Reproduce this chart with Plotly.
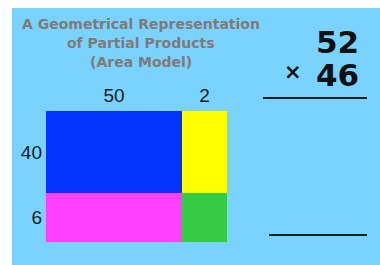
import plotly.graph_objects as go

# ---- data ----
col_values = [50, 2]          # tens / ones of 52
row_values = [40, 6]          # tens / ones of 46 (top to bottom)
factor_top = "52"
factor_bottom = "46"
times_sign = "×"
title_lines = ["A Geometrical Representation", "of Partial Products", "(Area Model)"]
cell_colors = ["#0433FF", "#FFFF00", "#FF40FF", "#33CC44"]  # 40x50, 40x2, 6x50, 6x2

# display sizes of the (not-to-scale) area model
col_display = [136, 45]
row_display = [82, 49]   # top row, bottom row

W, H = 380, 265
BG = "#79D3FE"


def px(x):
    return x / W


def py(y):
    return 1 - y / H


# heatmap cell edges (bottom-up for y)
x_edges = [0, col_display[0], col_display[0] + col_display[1]]
y_edges = [0, row_display[1], row_display[1] + row_display[0]]
z = [[2, 3], [0, 1]]  # bottom row: 6 -> magenta, green ; top row: 40 -> blue, yellow
n = len(cell_colors) - 1
colorscale = [[i / n, c] for i, c in enumerate(cell_colors)]

fig = go.Figure()
fig.add_trace(go.Heatmap(
    x=x_edges, y=y_edges, z=z, zmin=0, zmax=n,
    colorscale=colorscale, showscale=False, hoverinfo="skip",
))

x_centers = [(x_edges[i] + x_edges[i + 1]) / 2 for i in range(2)]
y_centers = [(y_edges[i] + y_edges[i + 1]) / 2 for i in range(2)]

lbl_font = dict(family="Liberation Sans, Arial", size=19, color="#1a1a1a")

fig.update_layout(
    width=W, height=H,
    margin=dict(l=0, r=0, t=0, b=0),
    paper_bgcolor=BG,
    plot_bgcolor=BG,
    showlegend=False,
    xaxis=dict(domain=[px(46), px(227)], range=[x_edges[0], x_edges[-1]],
               side="top", tickvals=x_centers, ticktext=[str(v) for v in col_values],
               showgrid=False, zeroline=False, showline=False, ticks="",
               tickfont=lbl_font, ticklabelstandoff=4),
    yaxis=dict(domain=[py(242), py(111)], range=[y_edges[0], y_edges[-1]],
               tickvals=y_centers, ticktext=[str(v) for v in row_values[::-1]],
               showgrid=False, zeroline=False, showline=False, ticks="",
               tickfont=lbl_font, ticklabelstandoff=3),
)

shapes = [
    # white margin strips (left and top)
    dict(type="rect", xref="paper", yref="paper", x0=0, x1=px(12), y0=-0.1, y1=1,
         fillcolor="white", line=dict(width=0), layer="below"),
    dict(type="rect", xref="paper", yref="paper", x0=0, x1=1.1, y0=py(8), y1=1,
         fillcolor="white", line=dict(width=0), layer="below"),
    dict(type="line", xref="paper", yref="paper", x0=px(263), x1=px(367),
         y0=py(98), y1=py(98), line=dict(color="#102020", width=2)),
    dict(type="line", xref="paper", yref="paper", x0=px(269), x1=px(367),
         y0=py(235), y1=py(235), line=dict(color="#102020", width=2)),
]
fig.update_layout(shapes=shapes)

title_ys = [24, 43, 62]
for t, yy in zip(title_lines, title_ys):
    fig.add_annotation(text=f"<b>{t}</b>", xref="paper", yref="paper",
                       x=px(141), y=py(yy), showarrow=False,
                       xanchor="center", yanchor="middle",
                       font=dict(family="DejaVu Sans", size=14, color="#807a78"))

num_font = dict(family="DejaVu Sans", size=31, color="#111111")
for t, yy in [(factor_top, 42), (factor_bottom, 75)]:
    fig.add_annotation(text=f"<b>{t}</b>", xref="paper", yref="paper",
                       x=px(361), y=py(yy), showarrow=False,
                       xanchor="right", yanchor="middle", font=num_font)
fig.add_annotation(text=f"<b>{times_sign}</b>", xref="paper", yref="paper",
                   x=px(293), y=py(72), showarrow=False,
                   xanchor="center", yanchor="middle",
                   font=dict(family="DejaVu Sans", size=21, color="#111111"))

fig.write_html(
    "out.html",
    config={"displayModeBar": False},
    post_script=(
        "document.body.style.margin='0';"
        "document.body.style.overflow='hidden';"
        "document.body.style.background='#79D3FE';"
        "document.documentElement.style.background='#79D3FE';"
    ),
)
